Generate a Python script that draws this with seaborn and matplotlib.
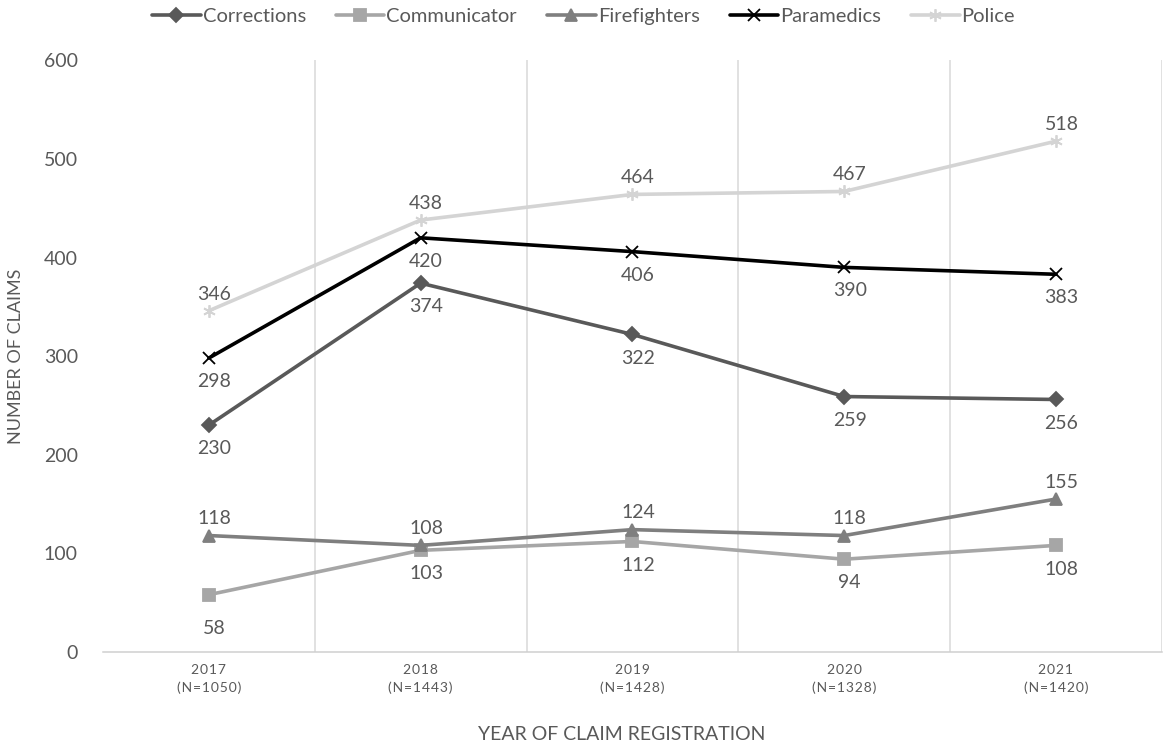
import matplotlib
matplotlib.use("Agg")
import matplotlib.pyplot as plt
import pandas as pd
import seaborn as sns

# data
years = ["2017\n(N=1050)", "2018\n(N=1443)", "2019\n(N=1428)", "2020\n(N=1328)", "2021\n(N=1420)"]
corrections = [230, 374, 322, 259, 256]
communicator = [58, 103, 112, 94, 108]
firefighters = [118, 108, 124, 118, 155]
paramedics = [298, 420, 406, 390, 383]
police = [346, 438, 464, 467, 518]

groups = ["Corrections", "Communicator", "Firefighters", "Paramedics", "Police"]
series = [corrections, communicator, firefighters, paramedics, police]

rows = []
for g, vals in zip(groups, series):
    for i, v in enumerate(vals):
        rows.append({"pos": i, "year": years[i], "group": g, "claims": v})
df = pd.DataFrame(rows)

colors = {"Corrections": "#595959", "Communicator": "#a6a6a6", "Firefighters": "#7f7f7f",
          "Paramedics": "#000000", "Police": "#d4d4d4"}
markers = {"Corrections": "D", "Communicator": "s", "Firefighters": "^",
           "Paramedics": "x", "Police": (6, 2, 0)}
msizes = {"Corrections": 7, "Communicator": 8, "Firefighters": 8.5,
          "Paramedics": 9, "Police": 9}
# label placement: +1 above, -1 below
label_side = {"Corrections": -1, "Communicator": -1, "Firefighters": 1,
              "Paramedics": -1, "Police": 1}

sns.set_theme(style="white")
plt.rcParams["font.family"] = ["Lato", "DejaVu Sans"]

fig = plt.figure(figsize=(11.7, 7.45), dpi=100)
ax = fig.add_axes([0.088, 0.125, 0.905, 0.794])

for g in groups:
    sub = df[df["group"] == g]
    sns.lineplot(data=sub, x="pos", y="claims", color=colors[g], marker=markers[g],
                 markersize=msizes[g], markeredgecolor=colors[g], markeredgewidth=1.3,
                 linewidth=2.6, label=g, ax=ax)

for g, vals in zip(groups, series):
    side = label_side[g]
    for i, v in enumerate(vals):
        dy = 12 if side > 0 else -17
        if g == "Communicator" and i == 0:
            dy = -24
        ax.annotate(str(v), (i, v), xytext=(4, dy), textcoords="offset points",
                    ha="center", va="center", fontsize=14, color="#595959")

# letter-spaced tick labels, as in the source
spaced = ["\n".join("\u200a".join(part) for part in y.split("\n")) for y in years]

ax.set_xlim(-0.5, 4.5)
ax.set_ylim(0, 600)
ax.set_yticks(range(0, 601, 100))
ax.set_xticks(range(len(years)))
ax.set_xticklabels(spaced, fontsize=10, color="#595959", linespacing=1.5)
ax.tick_params(axis="y", labelsize=14, labelcolor="#595959", length=0, pad=18)
ax.tick_params(axis="x", length=0, pad=9)

for b in [0.5, 1.5, 2.5, 3.5, 4.5]:
    ax.axvline(b, color="#d9d9d9", lw=1.1, zorder=0)

for s in ["top", "right", "left"]:
    ax.spines[s].set_visible(False)
ax.spines["bottom"].set_color("#d0d0d0")
ax.spines["bottom"].set_linewidth(1.1)

ax.set_xlabel("YEAR OF CLAIM REGISTRATION", fontsize=14, color="#595959", labelpad=20)
ax.xaxis.set_label_coords(0.49, -0.125)
ax.set_ylabel("NUMBER OF CLAIMS", fontsize=13, color="#595959", labelpad=14)

handles, labels = ax.get_legend_handles_labels()
ax.legend(handles, labels, loc="upper center", bbox_to_anchor=(0.454, 1.12), ncol=5,
          frameon=False, fontsize=14.5, handlelength=2.4, handletextpad=0.1,
          columnspacing=1.5, labelcolor="#595959")

fig.savefig("out.png", dpi=100)
